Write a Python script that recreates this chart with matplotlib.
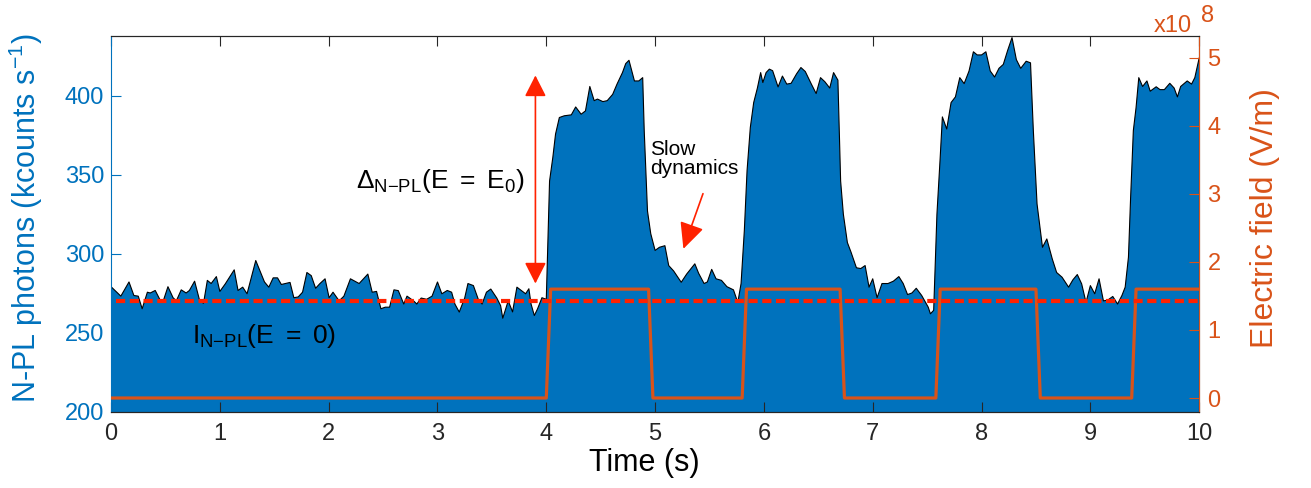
import matplotlib
matplotlib.use('Agg')
import matplotlib.pyplot as plt
from matplotlib.ticker import FuncFormatter

plt.rcParams['font.family'] = ['Liberation Sans', 'DejaVu Sans']
plt.rcParams['mathtext.fontset'] = 'custom'
plt.rcParams['mathtext.rm'] = 'Liberation Sans'
plt.rcParams['mathtext.it'] = 'Liberation Sans:italic'
plt.rcParams['mathtext.bf'] = 'Liberation Sans:bold'
plt.rcParams['mathtext.sf'] = 'Liberation Sans'

# N-PL photon trace (kcounts/s)
t_pl = [0.00, 0.09, 0.165, 0.21, 0.25, 0.286, 0.334, 0.36, 0.406, 0.455, 0.48, 0.523, 0.57, 0.60,
        0.645, 0.69, 0.72, 0.768, 0.815, 0.85, 0.885, 0.92, 0.968, 1.0, 1.05, 1.132, 1.167, 1.21,
        1.25, 1.33, 1.41, 1.45, 1.49, 1.53, 1.565, 1.645, 1.68, 1.72, 1.76, 1.80, 1.84, 1.88, 1.92,
        1.967, 2.004, 2.04, 2.096, 2.14, 2.20, 2.28, 2.36, 2.40, 2.44, 2.48,
        2.52, 2.56, 2.60, 2.64, 2.69, 2.72, 2.78, 2.81, 2.85, 2.90, 2.95, 3.0, 3.04, 3.09, 3.13,
        3.16, 3.20, 3.25, 3.28, 3.33, 3.375, 3.41, 3.45, 3.49, 3.545, 3.58, 3.60, 3.65, 3.69, 3.73,
        3.77, 3.81, 3.84, 3.86, 3.89, 3.92, 3.96, 4.0, 4.03, 4.06, 4.085, 4.12, 4.165, 4.23, 4.27,
        4.32, 4.36, 4.40, 4.44, 4.47, 4.52, 4.56, 4.61, 4.65, 4.70, 4.73, 4.76, 4.81, 4.85, 4.886,
        4.90, 4.93, 4.96, 5.0,
        5.04, 5.09, 5.125, 5.17, 5.24, 5.29, 5.365, 5.40, 5.45, 5.48, 5.52, 5.56, 5.61, 5.66, 5.72,
        5.76, 5.79, 5.82, 5.845, 5.875, 5.906, 5.94, 5.97, 5.99, 6.02, 6.05, 6.08, 6.13, 6.17, 6.21,
        6.25, 6.30, 6.34, 6.38, 6.436, 6.48, 6.52, 6.56, 6.605, 6.64, 6.68, 6.705, 6.73, 6.767, 6.80,
        6.85, 6.89, 6.93, 6.966, 7.0, 7.04, 7.085, 7.14, 7.19, 7.24, 7.28, 7.32, 7.36, 7.40, 7.45,
        7.51, 7.53, 7.56, 7.59, 7.62, 7.64, 7.68, 7.72, 7.76, 7.80, 7.84, 7.885, 7.925, 7.96, 8.00,
        8.04, 8.08, 8.12, 8.16, 8.20, 8.24, 8.28, 8.32, 8.36, 8.41, 8.45, 8.476, 8.51, 8.56, 8.60,
        8.65, 8.69, 8.74, 8.80, 8.84, 8.88, 8.92, 8.96, 9.0, 9.04, 9.08, 9.12, 9.16, 9.206, 9.25,
        9.29, 9.32, 9.35, 9.37, 9.395, 9.42, 9.445, 9.48, 9.52, 9.55, 9.605, 9.64, 9.68, 9.73, 9.77,
        9.80, 9.83, 9.89, 9.93, 9.96, 10.0]
pl = [279, 273, 282, 273.4, 273, 265, 275.5, 275, 276.6, 270, 270, 279, 272, 270,
      277, 275, 276.6, 282.5, 270, 268.5, 283, 281, 285.4, 276, 280.8, 289.7, 276.6, 278.7,
      274.5, 295.6, 282, 278.7, 284.6, 284.6, 280.4, 281.7, 272, 272.5, 275.5, 288, 286, 278, 281,
      284, 272, 275.5, 270, 273, 284, 281, 287, 275.5, 276, 265,
      266, 266, 277, 276.5, 268, 273, 270, 268, 271.8, 271, 273, 282, 274.5, 276.6, 275.5,
      268, 262.9, 271.8, 281, 279.7, 271, 268, 275.5, 277.5, 271.8, 267, 259, 270, 263, 278.7,
      276.6, 274.5, 277.7, 268, 260.7, 265, 272, 271, 346, 361, 375.8, 386.3, 387.4, 388, 393,
      388.4, 390.5, 406, 397, 398, 396.4, 397, 401, 407.5, 414.8, 420.5, 422.6, 409.5, 409.5, 411.6,
      377.9, 327, 312.6, 302,
      304, 305, 292.4, 289, 281.8, 287, 293.5, 287.5, 281, 282, 290, 284, 283, 279, 277,
      269, 281, 314.6, 352.6, 380, 395.8, 405, 414.8, 408.5, 414.8, 417, 416, 405.7, 412.6, 407.5,
      408, 414, 418, 415.5, 407.5, 401.5, 411.6, 409, 405, 414.8, 410, 346, 325, 307, 301,
      291, 290.5, 292.4, 278.7, 284, 272, 281, 281, 282.5, 285.4, 281, 274, 275, 278, 273.4,
      266, 261.8, 264, 325, 361, 386.7, 379, 395.8, 399.4, 411.6, 407.8, 415.8, 428, 426, 426,
      428, 415.8, 412, 417.5, 420, 428.9, 437, 423, 417.5, 422, 421, 378, 331.5, 304, 309.3,
      296.6, 288, 285, 278.7, 283.4, 286.7, 280.8, 269, 279.7, 274.5, 284, 270, 270.5, 272.8, 268,
      273.4, 278.7, 297.7, 335.6, 378, 392.6, 411.6, 406, 409.5, 403, 405.8, 404, 404, 408, 405,
      399.4, 406, 409.5, 407.5, 411.6, 424]

# applied electric field (V/m)
t_e = [0, 4.0, 4.04, 4.94, 4.98, 5.80, 5.84, 6.70, 6.74, 7.58, 7.62, 8.50, 8.54, 9.38, 9.42, 10]
e_field = [0, 0, 1.6e8, 1.6e8, 0, 0, 1.6e8, 1.6e8, 0, 0, 1.6e8, 1.6e8, 0, 0, 1.6e8, 1.6e8]

i0_level = 270          # I_N-PL(E = 0)
delta_range = (281, 413)
delta_t = 3.9

BLUE = '#0072BD'
ORANGE = '#D95319'
RED = '#FF2200'
DARK = '#262626'

fig = plt.figure(figsize=(13.11, 4.88), dpi=100)
ax = fig.add_axes([0.0847, 0.1557, 0.83, 0.7705])
ax.fill_between(t_pl, 0, pl, color=BLUE, lw=0, zorder=1)
ax.plot(t_pl, pl, color='k', lw=0.8, zorder=2)
ax.set_xlim(0, 10)
ax.set_ylim(199.5, 438)
ax.set_xticks(range(11))
ax.set_yticks([200, 250, 300, 350, 400])

ax.tick_params(axis='x', direction='in', top=True, length=7, width=0.8,
               labelsize=17, colors=DARK, pad=8)
ax.tick_params(axis='y', direction='in', length=7, width=0.8, labelsize=17,
               colors=BLUE, pad=5)
ax.set_xlabel('Time (s)', fontsize=22, color='k')
ax.xaxis.set_label_coords(0.49, -0.096)
ax.set_ylabel('N-PL photons (kcounts s$^{-1}$)', fontsize=22, color=BLUE)
ax.yaxis.set_label_coords(-0.061, 0.515)
for s in ['top', 'bottom']:
    ax.spines[s].set_color(DARK)
ax.spines['left'].set_color(BLUE)

ax2 = ax.twinx()
ax2.plot(t_e, e_field, color=ORANGE, lw=2.3, zorder=3)
ax2.set_ylim(-0.206e8, 5.32e8)
ax2.set_yticks([0, 1e8, 2e8, 3e8, 4e8, 5e8])
ax2.yaxis.set_major_formatter(FuncFormatter(lambda v, p: '%d' % round(v / 1e8)))
ax2.tick_params(axis='y', direction='in', length=7, width=0.8, labelsize=17,
                colors=ORANGE, pad=6)
ax2.set_ylabel('Electric field (V/m)', fontsize=23, color=ORANGE)
ax2.yaxis.set_label_coords(1.047, 0.515)
ax2.spines['right'].set_color(ORANGE)
ax2.spines['left'].set_visible(False)
for s in ['top', 'bottom']:
    ax2.spines[s].set_color(DARK)

# dashed reference level, on top of the field trace
ax2.plot([0.05, 10], [i0_level, i0_level], transform=ax.transData, color=RED,
         lw=3, dashes=(2.2, 1.1), zorder=4, clip_on=False)

# Delta arrow
ax2.annotate('', xy=(delta_t, delta_range[1]), xytext=(delta_t, delta_range[0]),
             xycoords=ax.transData, textcoords=ax.transData,
             arrowprops=dict(arrowstyle='<|-|>,head_length=0.65,head_width=0.33',
                             mutation_scale=20, color=RED, lw=1.2,
                             shrinkA=0, shrinkB=0))
ax2.text(3.03, 341.8, r'$\Delta_{\mathrm{N{-}PL}}\mathrm{(E\ =\ E_0)}$',
         transform=ax.transData, fontsize=19, ha='center', va='baseline', color='k')
ax2.text(1.41, 243.2, r'$\mathrm{I}_{\mathrm{N{-}PL}}\mathrm{(E\ =\ 0)}$',
         transform=ax.transData, fontsize=19, ha='center', va='baseline', color='k')

# slow dynamics note
ax2.text(4.95, 372, 'Slow\ndynamics', transform=ax.transData, fontsize=15,
         ha='left', va='top', color='k', linespacing=1.0)
ax2.annotate('', xy=(5.26, 303), xytext=(5.44, 338),
             xycoords=ax.transData, textcoords=ax.transData,
             arrowprops=dict(arrowstyle='-|>,head_length=0.8,head_width=0.38',
                             mutation_scale=20, color=RED, lw=1.2,
                             shrinkA=0, shrinkB=0))

# exponent marker for right axis
fig.text(1192 / 1311, 1 - 32 / 488, 'x10', color=ORANGE, fontsize=17,
         ha='right', va='baseline')
fig.text(1201 / 1311, 1 - 22 / 488, '8', color=ORANGE, fontsize=17,
         ha='left', va='baseline')

fig.savefig('out.png', dpi=100)
